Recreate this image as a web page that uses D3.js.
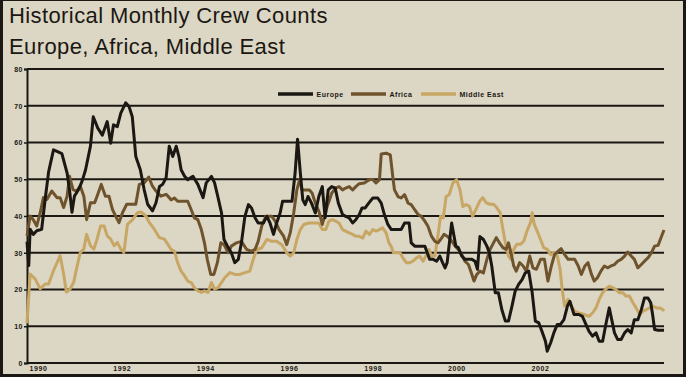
<!DOCTYPE html>
<html lang="en">

<head>
    <meta charset="UTF-8">
    <title>Historical Monthly Crew Counts</title>
    <script src="https://d3js.org/d3.v7.min.js"></script>
    <style>
        body { margin: 0; background: #000; }
        svg { display: block; }
    </style>
</head>

<body>
    <div id="chart"></div>

    <script>
        // Month index counted from Jan 1990, crew count
        const europe = [[0,33],[0.5,26.5],[0.9,36.4],[1.8,35],[2.8,36],[4.2,36.4],[5.2,44.5],[6.2,52],[7.6,58],[8.6,57.6],[10,57],[11.5,51.7],[12.2,47],[12.9,41],[13.6,45.4],[14.8,47.2],[15.8,49.5],[16.8,52.6],[18.2,59],[19,67],[20.3,63.9],[21.6,62],[23,65.7],[24,59.8],[24.8,64.8],[25.9,64.3],[26.9,68],[28.3,70.8],[29.3,69.7],[30.2,67],[31.2,56.2],[32.5,52.6],[33.6,47.2],[34.6,43.2],[36,41.4],[37,43.6],[38,48],[38.9,48.6],[39.9,50.4],[40.8,59],[41.8,56.2],[42.8,59],[43.6,56],[44.2,52.6],[45.2,50.8],[46.1,49.9],[47.6,50.8],[49,48.6],[50.5,45],[51.4,49],[52.9,50.8],[53.8,49],[54.8,45],[55.8,40.8],[56.5,33.6],[57.5,31.8],[58.6,30],[59.6,27.3],[60.6,28.2],[61.5,32.7],[62.5,39.9],[63.5,43.1],[64.4,42.2],[65.4,39.5],[66.3,38.1],[67.8,38.1],[68.8,39.9],[69.7,38.1],[70.7,35],[71.6,38.1],[72.6,40.8],[73.3,44],[74.5,44],[76,44],[76.9,51.7],[77.6,60.9],[78.4,51.7],[79.1,44.4],[79.8,43.1],[80.6,45.3],[81.6,43.5],[82.7,40.8],[83.7,45.3],[84.7,48],[85.5,39.5],[86.4,47.1],[87.4,48],[88.4,47.6],[89.3,43.5],[90.5,40.4],[91.4,39.9],[92.4,39.5],[93.4,38.1],[94.3,39],[95.3,40.4],[96.1,42.2],[97,42.2],[98,43.5],[99.2,44.9],[100.6,44.9],[101.6,43.5],[102.5,40.4],[103.5,37.7],[104.5,36.3],[105.9,36.3],[107.3,36.3],[108.3,38.1],[109.6,38.1],[110.2,32.7],[111.2,31.8],[112.6,31.8],[114.1,31.8],[114.8,30],[115.5,28.2],[116.5,28.2],[117.5,27.7],[118.4,29.1],[119.2,27.3],[119.9,25.9],[120.5,27.3],[121.8,38.1],[123,31.8],[123.7,31.4],[124.7,29.1],[125.6,28.2],[126.6,28.2],[127.6,28.2],[128.5,27.7],[129.2,25.5],[129.9,34.4],[130.9,33.6],[131.9,31.8],[132.6,30],[133.3,26.4],[134.3,19.1],[135.2,19.1],[136.2,14.5],[137.2,11.4],[138.1,11.4],[139.1,15.5],[140,19.5],[141,21.4],[142,22.7],[142.9,24.5],[143.9,25],[144.9,19.1],[145.8,11.4],[146.8,10.9],[147.7,8.6],[148.7,5.9],[149.2,3.2],[150.2,5.5],[151.1,8.2],[152.1,10.5],[153,10.5],[154,11.8],[155,15.5],[155.7,16.8],[156.9,13.2],[158.3,13.2],[159.3,12.7],[160.3,10.5],[161.2,8.6],[162.2,7.3],[163.2,8.2],[164.1,5.9],[165.1,5.9],[166.1,10.9],[167,15],[167.7,11.8],[168.5,8.2],[169.4,6.4],[170.4,6.4],[171.4,8.2],[172.3,9.1],[173.3,8.2],[174.2,11.8],[175.2,11.8],[176.2,14.5],[177.1,17.7],[178.1,17.7],[178.9,16.4],[179.5,12.7],[180,9.1],[181,8.9],[182.7,8.9]];

        const africa = [[0,34.6],[0.9,40],[1.8,39],[2.8,37.3],[3.8,40.9],[4.7,45],[5.7,44.5],[7.1,46.8],[8.6,45],[9.5,45],[10.5,42.3],[11.5,45.4],[12.2,50.8],[13.2,47.2],[14.2,46.8],[15.3,48.1],[16.3,45.4],[17.1,39],[18.2,43.6],[19.4,43.6],[20.1,45.4],[21.3,48.6],[22.5,45.4],[23.5,45.4],[24.5,41.8],[25.4,40],[26.4,38.2],[27.4,40.9],[28.6,43.2],[29.8,43.2],[31.2,43.2],[32.2,48.6],[33.6,49],[34.9,50.6],[36,48.1],[37,46.8],[38.4,45.4],[39.9,45.9],[40.8,45],[41.3,44.4],[42.3,44.9],[43.2,44],[44.7,44],[46.1,44],[47.1,41.7],[48,39.5],[49,39],[50,36.3],[50.9,32.7],[51.7,28.2],[52.7,24.1],[53.6,24.1],[54.6,27.3],[55.6,32.7],[56.5,32.2],[57.7,30],[58.6,31.8],[60.1,32.7],[61.5,33.1],[63,30.9],[64.4,30.4],[65.4,30.9],[66.3,33.1],[67.3,37.2],[68.5,39.9],[70.2,39.9],[71.2,38.6],[72.3,36.3],[73.6,34.5],[74.5,32.2],[75.5,35.4],[76.5,40.8],[77.4,47.1],[78.2,49.9],[78.9,47.1],[79.8,47.1],[81,47.1],[81.8,46.2],[82.7,43.5],[83.7,41.3],[84.7,37.7],[86.1,42.6],[87.4,46.2],[88.5,47.6],[89.5,48],[90.5,47.1],[91.4,47.6],[92.4,48],[93.4,47.1],[94.3,48],[95.3,48.8],[96.7,49],[98.2,49.9],[99.2,49.9],[100.1,49],[101.1,49.9],[101.6,56.9],[103,57.1],[104.2,56.6],[104.9,50.8],[105.4,47.1],[106.4,45.3],[107.3,44.9],[108.3,45.8],[109.3,43.5],[110.2,43.1],[111.2,41.7],[112.2,40.4],[113.1,39.9],[114.1,38.6],[115,37.2],[116,34.5],[117,33.1],[117.9,32.7],[118.9,34],[119.6,35],[120.5,34.5],[121.5,33.6],[122.8,31.8],[123.7,30.9],[124.7,29.5],[125.6,27.7],[126.6,26.8],[127.6,24.1],[128.2,22.3],[129,24.1],[129.9,25],[130.9,24.5],[131.9,28.2],[132.8,30.9],[133.8,32.7],[134.6,34.1],[135.5,32.7],[136.5,31.4],[137.4,30.9],[138.1,32.7],[138.8,30],[139.6,26.4],[140.3,25],[141.3,27.3],[142.3,26.4],[143.2,25],[144.2,29.1],[145.1,25.9],[146.1,25.5],[147.3,28.2],[148.4,28.2],[149.4,22.3],[150.4,26.4],[151.3,29.5],[152.3,30.4],[153.2,31.1],[154.2,29.5],[155.2,28.2],[156.1,28.2],[157.1,28.2],[158.1,26.4],[159,24.1],[160,26.4],[160.9,27.3],[161.9,24.1],[162.7,22.3],[163.6,23.2],[164.6,25],[165.6,26.4],[166.5,25.9],[167.5,26.4],[168.5,26.8],[169.4,27.7],[170.4,28.2],[171.4,29.1],[172.3,30.2],[173.3,29.1],[174.2,28.2],[175.2,25.9],[176.2,26.8],[177.1,27.7],[178.1,28.6],[179.1,30],[180,31.8],[181,32],[182,34.5],[182.7,36.2]];

        const middleEast = [[0,10.8],[0.9,24.2],[2.3,22.9],[3.8,20.2],[5.2,21.5],[6.2,21.5],[7.6,25.1],[9.5,29.2],[10.5,24.2],[11.3,19.3],[12.4,20.2],[13.4,22],[14.4,26.5],[15.3,30.1],[16.3,31],[17.1,35],[18.2,31.9],[19.2,31],[20.1,33.7],[21.1,37.3],[22.1,37.3],[23,34.6],[24,33.7],[25,31.9],[25.9,32.8],[26.9,31],[27.8,30.1],[28.8,37.7],[30.3,39],[31.7,40.9],[32.7,41.1],[34.1,40],[35.1,38.2],[36.5,36.4],[38,34.1],[39.4,33.7],[40.4,32.3],[41.3,30.9],[42.3,30.4],[43.2,27.3],[44.2,25],[45.2,23.7],[46.1,22.3],[47.1,21.9],[48,20.5],[49,19.6],[50,19.2],[50.9,19.6],[51.9,19.2],[52.9,21.9],[53.8,20.1],[54.8,20.5],[55.8,21.9],[56.7,23.2],[58.2,24.6],[59.6,24.1],[61.1,24.1],[62.5,24.6],[63.9,25],[64.9,28.2],[65.9,30.9],[67.3,31.3],[68.8,33.6],[70.2,33.1],[71.6,33.1],[73.1,32.2],[74.5,30],[75.5,29.1],[76.5,30],[77.4,33.6],[78.4,36.3],[79.4,37.7],[80.8,38.1],[82.2,38.1],[83.7,38.1],[84.7,36.3],[85.7,36.3],[86.6,38.6],[87.6,39],[88.5,38.6],[89.5,38.1],[90.5,36.3],[91.4,35.9],[92.4,35.4],[93.4,35],[94.3,34.5],[95.3,34.5],[96.3,34],[97.2,35.9],[98.2,35],[99.2,36.3],[100.1,35.9],[101.1,36.3],[102,36.8],[103,35.4],[103.8,32.7],[104.4,31.8],[105.1,30],[106.1,30],[107,30],[107.8,28.6],[108.8,27.3],[109.7,27.3],[110.7,27.7],[111.7,28.6],[112.6,29.1],[113.6,27.7],[114.6,29.5],[115.3,30.9],[116,29.1],[117,29.1],[117.9,35],[118.6,39.9],[119.4,39.5],[120.2,45.3],[121.1,45.8],[122.1,48.9],[123.2,49.9],[124.2,47.1],[125,42.6],[125.9,43.1],[126.9,42.6],[127.8,39.9],[129,42.3],[129.9,44.1],[130.7,45],[131.7,43.6],[132.8,43.2],[133.8,43.2],[134.7,42.3],[135.7,40.9],[136.5,36.4],[137.2,32.7],[138.1,29.1],[138.8,28.2],[139.6,30.9],[140.5,32.3],[141.5,32.3],[142.5,33.2],[143.4,35.9],[144.4,38.2],[144.9,40.9],[145.5,37.7],[146.5,35.5],[147.3,33.6],[148.2,31.4],[149.2,30.9],[150.2,29.5],[151.1,30],[152.1,29.1],[152.9,25.5],[153.5,20],[154.2,15.5],[155.2,17.3],[156.1,15.5],[157.1,14.1],[158.3,13.6],[159.8,13.2],[161.2,12.7],[162.2,13.6],[163.2,15],[164.1,17.3],[165.1,19.1],[166.1,20.2],[167,20.9],[168,20.5],[168.9,20],[169.9,19.1],[170.9,19.1],[171.8,18.2],[172.8,18.2],[173.8,16.4],[174.7,15],[175.7,13.2],[176.7,14.1],[177.6,14.5],[178.6,15],[179.5,15.5],[180.5,15],[181.5,15],[182.4,14.5],[182.7,14.1]];

        const seriesNames = ["Europe", "Africa", "Middle East"];
        const seriesColors = ["#1b1813", "#6e532d", "#c8a664"];
        const yTicks = [0, 10, 20, 30, 40, 50, 60, 70, 80];
        const yearLabels = ["1990", "1992", "1994", "1996", "1998", "2000", "2002"];
        const yearMonths = [0, 24, 48, 72, 96, 120, 144];

        const W = 686, H = 377;
        const margin = { top: 69, right: 27, bottom: 14, left: 27 };
        const width = W - margin.left - margin.right;
        const height = H - margin.top - margin.bottom;

        const svgRoot = d3.select("#chart")
            .append("svg")
            .attr("width", W)
            .attr("height", H);

        // beige panel with dark frame
        svgRoot.append("rect")
            .attr("x", 0).attr("y", 0)
            .attr("width", W).attr("height", H)
            .attr("fill", "#1b1813");
        svgRoot.append("rect")
            .attr("x", 3).attr("y", 1)
            .attr("width", W - 6).attr("height", H - 4)
            .attr("fill", "#dcd6c4");

        svgRoot.append("text")
            .attr("x", 9).attr("y", 23)
            .attr("font-family", "Liberation Sans, Arial, sans-serif")
            .attr("font-size", 22)
            .attr("letter-spacing", 0.4)
            .attr("fill", "#1b1813")
            .text("Historical Monthly Crew Counts");
        svgRoot.append("text")
            .attr("x", 9).attr("y", 53.5)
            .attr("font-family", "Liberation Sans, Arial, sans-serif")
            .attr("font-size", 22)
            .attr("letter-spacing", 0.4)
            .attr("fill", "#1b1813")
            .text("Europe, Africa, Middle East");

        const svg = svgRoot.append("g")
            .attr("transform", "translate(" + margin.left + "," + margin.top + ")");

        const xScale = d3.scaleLinear().domain([0, 182.7]).range([0, width + 5]);
        const yScale = d3.scaleLinear().domain([0, 80]).range([height, 0]);

        // horizontal grid lines
        svg.append("g")
            .selectAll("line")
            .data(yTicks)
            .join("line")
            .attr("x1", 0)
            .attr("x2", xScale(182.7))
            .attr("y1", d => yScale(d))
            .attr("y2", d => yScale(d))
            .attr("stroke", "#1b1813")
            .attr("stroke-width", 2);

        // y axis
        const yAxis = svg.append("g")
            .call(d3.axisLeft(yScale).tickValues(yTicks).tickSize(3).tickPadding(1));
        yAxis.select(".domain").attr("stroke", "#1b1813").attr("stroke-width", 2);
        yAxis.selectAll(".tick line").attr("stroke", "#1b1813").attr("stroke-width", 1.5);
        yAxis.selectAll("text")
            .attr("font-family", "Liberation Sans, Arial, sans-serif")
            .attr("font-size", 7)
            .attr("font-weight", "bold")
            .attr("letter-spacing", 0.5)
            .attr("fill", "#1b1813");

        // x year labels, no ticks
        const xAxis = svg.append("g")
            .attr("transform", "translate(0," + height + ")")
            .call(d3.axisBottom(xScale).tickValues(yearMonths)
                .tickFormat((d, i) => yearLabels[i]).tickSize(0).tickPadding(3));
        xAxis.select(".domain").remove();
        xAxis.selectAll("text")
            .attr("text-anchor", "start")
            .attr("dx", 2)
            .attr("font-family", "Liberation Sans, Arial, sans-serif")
            .attr("font-size", 7)
            .attr("font-weight", "bold")
            .attr("letter-spacing", 0.6)
            .attr("fill", "#1b1813");

        const line = d3.line()
            .x(d => xScale(d[0]))
            .y(d => yScale(d[1]));

        const allSeries = [europe, africa, middleEast];
        // draw Middle East first so Europe sits on top
        [2, 1, 0].forEach(i => {
            svg.append("path")
                .datum(allSeries[i])
                .attr("fill", "none")
                .attr("stroke", seriesColors[i])
                .attr("stroke-width", 3)
                .attr("stroke-linejoin", "round")
                .attr("d", line);
        });

        // legend
        const legendX = [251, 324, 394];
        const legend = svg.append("g")
            .attr("transform", "translate(0," + (yScale(80) + 25) + ")");
        seriesNames.forEach((name, i) => {
            legend.append("line")
                .attr("x1", legendX[i]).attr("x2", legendX[i] + 35)
                .attr("y1", 0).attr("y2", 0)
                .attr("stroke", seriesColors[i])
                .attr("stroke-width", 3.5);
            legend.append("text")
                .attr("x", legendX[i] + 38.5)
                .attr("y", 2.5)
                .attr("font-family", "Liberation Sans, Arial, sans-serif")
                .attr("font-size", 7)
                .attr("font-weight", "bold")
                .attr("letter-spacing", 0.5)
                .attr("fill", "#1b1813")
                .text(name);
        });
    </script>
</body>

</html>
